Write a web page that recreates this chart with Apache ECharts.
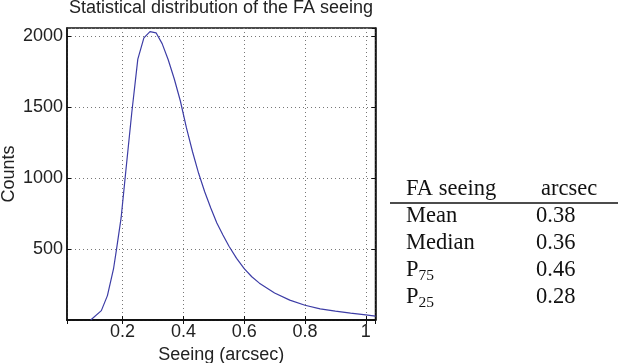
<!DOCTYPE html>
<html>
<head>
<meta charset="utf-8">
<script src="https://cdn.jsdelivr.net/npm/echarts@6/dist/echarts.min.js"></script>
<style>
  html, body { margin: 0; padding: 0; background: #fff; }
  #chart { width: 618px; height: 363px; }
</style>
</head>
<body>
<div id="chart"></div>
<script>
// 曲线数据
const seeing = [0.095, 0.13, 0.15, 0.17, 0.18, 0.195, 0.21, 0.23, 0.25, 0.27, 0.29, 0.31, 0.33, 0.35,
    0.37, 0.39, 0.41, 0.43, 0.45, 0.47, 0.49, 0.51, 0.53, 0.55, 0.575, 0.6, 0.625, 0.65, 0.7, 0.75,
    0.8, 0.85, 0.9, 0.95, 1.0, 1.032];
const counts = [0, 66, 172, 360, 500, 720, 1040, 1460, 1840, 1990, 2035, 2026, 1950, 1836,
    1700, 1545, 1355, 1187, 1035, 905, 790, 685, 600, 520, 435, 362, 305, 260, 190, 140,
    104, 78, 62, 48, 36, 27];

// 右侧表格
const tableHeader = ['FA seeing', 'arcsec'];
const statLabels = ['Mean', 'Median', 'P', 'P'];
const statSubs = ['', '', '75', '25'];
const statValues = ['0.38', '0.36', '0.46', '0.28'];

const sans = 'Liberation Sans';
const serif = 'Liberation Serif';

function buildTable() {
    const items = [];
    const col1 = 406, col2 = 536;
    const serifStyle = { font: '22.5px "' + serif + '"', fill: '#111', verticalAlign: 'middle' };
    items.push({ type: 'text', x: col1, y: 189, style: { ...serifStyle, text: tableHeader[0] } });
    items.push({ type: 'text', x: 541, y: 189, style: { ...serifStyle, text: tableHeader[1] } });
    items.push({
        type: 'line', shape: { x1: 390, y1: 203, x2: 618, y2: 203 },
        style: { stroke: '#111', lineWidth: 1.3 }
    });
    statLabels.forEach((lab, i) => {
        const y = 216.5 + i * 27;
        items.push({ type: 'text', x: col1, y: y, style: { ...serifStyle, text: lab } });
        if (statSubs[i]) {
            items.push({
                type: 'text', x: col1 + 12.5, y: y + 5.5,
                style: { font: '15.5px "' + serif + '"', fill: '#111', verticalAlign: 'middle', text: statSubs[i] }
            });
        }
        items.push({ type: 'text', x: col2, y: y, style: { ...serifStyle, text: statValues[i] } });
    });
    return items;
}

const chart = echarts.init(document.getElementById('chart'));
const gridStyle = { color: '#777', type: [1, 3], width: 1 };
const option = {
    animation: false,
    title: {
        text: 'Statistical distribution of the FA seeing',
        left: 221, top: -1, textAlign: 'center', padding: 0,
        textStyle: { fontFamily: sans, fontSize: 18, fontWeight: 'normal', color: '#222' }
    },
    grid: {
        left: 67, right: 242.5, top: 28, bottom: 43,
        outerBoundsMode: 'none', containLabel: false,
        show: true, borderColor: '#111', borderWidth: 1.5
    },
    xAxis: [{
        type: 'value', min: 0.017, max: 1.032, splitNumber: 5,
        name: 'Seeing (arcsec)', nameLocation: 'middle', nameGap: 22,
        nameTextStyle: { fontFamily: sans, fontSize: 18, color: '#222' },
        axisLine: { lineStyle: { color: '#111', width: 1.5 } },
        axisTick: { inside: true, length: 4, lineStyle: { color: '#111' } },
        axisLabel: { fontFamily: sans, fontSize: 18, color: '#222', margin: 3, showMinLabel: false, showMaxLabel: false },
        splitLine: { show: true, lineStyle: gridStyle }
    }, {
        type: 'value', min: 0.017, max: 1.032, splitNumber: 5, position: 'top',
        axisLine: { lineStyle: { color: '#111', width: 1.5 } },
        axisTick: { inside: true, length: 4, lineStyle: { color: '#111' } },
        axisLabel: { show: false }, splitLine: { show: false }
    }],
    yAxis: [{
        type: 'value', min: 0, max: 2060, interval: 500,
        name: 'Counts', nameLocation: 'middle', nameGap: 49,
        nameTextStyle: { fontFamily: sans, fontSize: 18, color: '#222' },
        axisLine: { show: true, lineStyle: { color: '#111', width: 1.5 } },
        axisTick: { show: true, inside: true, length: 4, lineStyle: { color: '#111' } },
        axisLabel: {
            fontFamily: sans, fontSize: 18, color: '#222', margin: 4,
            showMinLabel: false, showMaxLabel: false, formatter: v => String(v)
        },
        splitLine: { show: true, lineStyle: gridStyle }
    }, {
        type: 'value', min: 0, max: 2060, interval: 500, position: 'right',
        axisLine: { show: true, lineStyle: { color: '#111', width: 1.5 } },
        axisTick: { show: true, inside: true, length: 4, lineStyle: { color: '#111' } },
        axisLabel: { show: false }, splitLine: { show: false }
    }],
    series: [{
        type: 'line',
        data: seeing.map((x, i) => [x, counts[i]]),
        showSymbol: false,
        lineStyle: { color: '#3d3da6', width: 1.2 },
        clip: true
    }],
    graphic: buildTable()
};
chart.setOption(option);
</script>
</body>
</html>
